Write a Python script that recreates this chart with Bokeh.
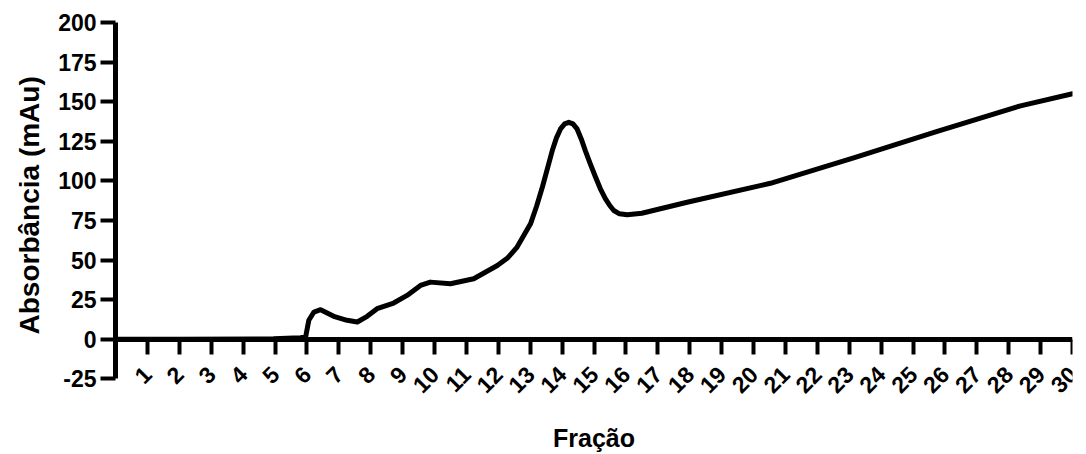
from math import pi

from bokeh.embed import file_html
from bokeh.models import FixedTicker, LinearAxis, Range1d, Title
from bokeh.plotting import figure
from bokeh.resources import INLINE

# Chromatogram: absorbance read at each collected fraction
fraction = [0.0, 2.0, 4.95, 5.8, 5.96, 6.06, 6.22, 6.43, 6.84, 7.26, 7.58, 7.89,
            8.2, 8.72, 9.14, 9.56, 9.87, 10.5, 11.23, 11.97, 12.3, 12.59, 13.01,
            13.2, 13.38, 13.55, 13.69, 13.82, 13.95, 14.08, 14.21, 14.34, 14.47,
            14.6, 14.73, 14.89, 15.05, 15.2, 15.36, 15.5, 15.62, 15.8, 16.04,
            16.5, 17.92, 20.53, 23.14, 25.76, 28.37, 30.0]
absorbance = [0.0, 0.0, 0.3, 1.0, 1.5, 12.0, 17.2, 18.7, 14.5, 12.0, 10.9, 14.5,
              19.3, 22.9, 27.7, 34.0, 36.1, 35.1, 38.2, 46.6, 51.5, 58.2, 72.9,
              84.0, 96.0, 108.5, 119.0, 127.0, 132.8, 136.0, 137.0, 136.0, 132.8,
              126.5, 119.0, 110.5, 102.3, 95.0, 88.7, 84.3, 81.3, 79.2, 78.6,
              79.6, 86.5, 98.5, 114.5, 131.3, 147.4, 155.0]

x_ticks = list(range(1, 31))
y_ticks = list(range(-25, 201, 25))

FONT = "Liberation Sans"

# the frame reaches below -25 so the slanted fraction labels have room;
# the y axis itself is bounded to -25..200
p = figure(
    width=1086, height=454,
    x_range=Range1d(0, 30), y_range=Range1d(-50, 200),
    output_backend="svg", toolbar_location=None,
    min_border_left=115, min_border_right=14,
    min_border_top=22, min_border_bottom=36,
)
p.outline_line_color = None
p.background_fill_color = "white"
p.border_fill_color = "white"
p.grid.visible = False

# x axis drawn through y = 0
xa = p.xaxis[0]
xa.fixed_location = 0
xa.ticker = FixedTicker(ticks=x_ticks)
xa.axis_line_width = 5
xa.axis_line_color = "black"
xa.major_tick_line_width = 4
xa.major_tick_in = 0
xa.major_tick_out = 15
xa.minor_tick_line_color = None
xa.major_label_orientation = pi / 4
xa.major_label_text_font = FONT
xa.major_label_text_font_style = "bold"
xa.major_label_text_font_size = "23px"
xa.major_label_text_color = "black"
xa.major_label_standoff = 16

# bottom axis carrying only the title
title_axis = LinearAxis(ticker=FixedTicker(ticks=[]), axis_line_color=None,
                        major_tick_out=0, major_tick_in=0,
                        minor_tick_line_color=None, major_label_standoff=0,
                        axis_label="Fração", axis_label_standoff=5,
                        axis_label_text_font=FONT,
                        axis_label_text_font_style="bold",
                        axis_label_text_font_size="25px",
                        axis_label_text_color="black")
p.add_layout(title_axis, "below")

ya = p.yaxis[0]
ya.bounds = (-25, 200)
ya.ticker = FixedTicker(ticks=y_ticks)
ya.major_label_overrides = {-25: "-25"}
ya.axis_line_width = 5
ya.axis_line_color = "black"
ya.major_tick_line_width = 4
ya.major_tick_in = 0
ya.major_tick_out = 15
ya.minor_tick_line_color = None
ya.major_label_text_font = FONT
ya.major_label_text_font_style = "bold"
ya.major_label_text_font_size = "23px"
ya.major_label_text_color = "black"
ya.major_label_standoff = 4

# y title placed along the bounded axis rather than the whole frame
p.add_layout(Title(text="Absorbância (mAu)", align="left", offset=84,
                   standoff=22, text_font=FONT, text_font_style="bold",
                   text_font_size="28px", text_color="black"), "left")

p.line(fraction, absorbance, line_color="black", line_width=5,
       line_join="round", line_cap="round")

open("out.html", "w").write(file_html(p, INLINE))
